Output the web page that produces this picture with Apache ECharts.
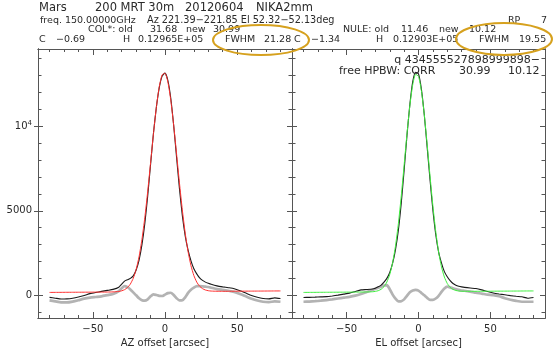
<!DOCTYPE html>
<html><head><meta charset="utf-8">
<script src="https://cdn.jsdelivr.net/npm/echarts@6/dist/echarts.min.js"></script>
<style>html,body{margin:0;padding:0;background:#fff}#c{width:556px;height:354px}</style>
</head><body><div id="c"></div>
<script>
// offsets [arcsec]
const X = [-80,-76,-72,-68,-64,-60,-56,-52,-48,-44,-40,-36,-32,-30,-28,-26,-24,-22,-20,-18,-16,-14,-12,-10,-8,-6,-4,-2,0,2,4,6,8,10,12,14,16,18,20,22,24,26,28,30,32,36,40,44,48,52,56,60,64,68,72,76,80];
// AZ panel
const azData = [-120,-170,-220,-210,-170,-100,-10,100,170,230,290,350,480,660,840,920,1000,1150,1500,2070,2980,4240,5860,7740,9590,11110,12270,12970,13150,12710,11660,10060,8180,6320,4730,3520,2670,2040,1570,1270,1030,880,780,710,650,560,500,450,390,270,130,-10,-120,-190,-210,-150,-190];
const azFit = [171,173,175,178,180,182,184,186,189,191,193,201,229,265,335,458,667,1007,1526,2274,3293,4588,6132,7834,9560,11122,12337,13044,13142,12619,11549,10074,8384,6660,5059,3681,2578,1752,1168,781,538,394,314,272,251,239,237,239,241,244,246,248,250,252,255,257,259];
const azResid = [-300,-360,-420,-420,-370,-290,-200,-140,-100,-60,10,80,250,420,540,480,350,170,0,-180,-290,-320,-240,-60,60,20,-30,-40,40,130,150,20,-170,-300,-290,-120,140,330,450,540,540,530,510,490,450,370,320,270,200,80,-60,-200,-310,-380,-400,-360,-380];
// EL panel
const elData = [-130,-120,-110,-95,-80,-40,10,70,130,230,320,340,370,420,500,600,780,1000,1350,1900,2700,3850,5450,7400,9480,11300,12650,13200,13100,12200,10700,8800,6850,5050,3600,2550,1900,1400,1100,870,700,600,540,500,470,430,400,320,220,140,80,30,-20,-60,-90,-170,-130];
const elFit = [171,173,175,178,180,182,184,186,189,191,193,197,211,232,274,358,513,787,1236,1929,2921,4240,5868,7699,9564,11235,12471,13076,12951,12115,10707,8946,7072,5297,3771,2564,1681,1081,701,475,350,286,255,242,239,236,237,239,241,244,246,248,250,252,255,257,259];
const elResid = [-380,-370,-350,-320,-280,-240,-190,-140,-90,-20,80,200,320,390,450,510,580,600,360,40,-200,-360,-350,-240,-30,180,280,320,280,140,0,-150,-270,-270,-190,-30,200,400,510,470,410,370,320,280,270,220,150,100,40,10,-60,-170,-260,-330,-380,-380,-380];
// ticks
const xMinorTicks = [-80,-70,-60,-50,-40,-30,-20,-10,0,10,20,30,40,50,60,70,80];
const xMajorTicks = [-50,0,50];
const yMinorTicks = [-1000,0,1000,2000,3000,4000,5000,6000,7000,8000,9000,10000,11000,12000,13000,14000];
const yMajorTicks = [0,5000,10000];
const xNames = ['AZ offset [arcsec]','EL offset [arcsec]'];

const FONT = '"DejaVu Sans", sans-serif';
const AX = '#555';
const TXT = '#2a2a2a';
const XMIN=-88, XMAX=88, YMIN=-1343, YMAX=14574;

function pair(xs, ys){ return xs.map((x,i)=>[x, ys[i]]); }

function xAxes(g){
  const base = {type:'value', gridIndex:g, min:XMIN, max:XMAX, splitLine:{show:false},
    axisLine:{show:true, onZero:false, lineStyle:{color:AX, width:1}}, axisLabel:{show:false}};
  const minor = {show:true, inside:true, length:3, customValues:xMinorTicks, lineStyle:{color:AX}};
  const major = {show:true, inside:true, length:6, customValues:xMajorTicks, lineStyle:{color:AX}};
  return [
    Object.assign({}, base, {position:'bottom', axisTick:minor}),
    Object.assign({}, base, {position:'bottom', axisTick:major,
      axisLabel:{show:true, customValues:xMajorTicks, margin:6, color:TXT, fontSize:10, fontFamily:FONT,
        formatter:v=>String(v).replace('-','\u2212')},
      name:xNames[g], nameLocation:'middle', nameGap:16,
      nameTextStyle:{color:TXT, fontSize:10, fontFamily:FONT}}),
    Object.assign({}, base, {position:'top', axisTick:minor}),
    Object.assign({}, base, {position:'top', axisTick:major})
  ];
}
function yAxes(g){
  const base = {type:'value', gridIndex:g, min:YMIN, max:YMAX, splitLine:{show:false},
    axisLine:{show:true, onZero:false, lineStyle:{color:AX, width:1}}, axisLabel:{show:false}};
  const minor = {show:true, inside:true, length:3.5, customValues:yMinorTicks, lineStyle:{color:AX}};
  const major = {show:true, inside:true, length:5, customValues:yMajorTicks, lineStyle:{color:AX}};
  const arr = [
    Object.assign({}, base, {position:'left', axisTick:minor}),
    Object.assign({}, base, {position:'left', axisTick:major,
      axisLabel: g===0 ? {show:true, customValues:yMajorTicks, margin:6, color:TXT, fontSize:10, fontFamily:FONT,
        formatter:v=> v===10000 ? '10{s|4}' : String(v),
        rich:{s:{fontSize:7, fontFamily:FONT, color:TXT, padding:[0,0,7,0]}}} : {show:false}}),
    Object.assign({}, base, {position:'right', axisTick:minor}),
    Object.assign({}, base, {position:'right', axisTick:major})
  ];
  if (g===0) arr.push(Object.assign({}, base, {position:'left', axisTick:{show:true, inside:false, length:4, customValues:yMajorTicks, lineStyle:{color:AX}}}));
  return arr;
}

const xAxisAll = xAxes(0).concat(xAxes(1));
const yAxisAll = yAxes(0).concat(yAxes(1));

function lineSeries(xi, yi, data, color, width, z){
  return {type:'line', xAxisIndex:xi, yAxisIndex:yi, data:data, showSymbol:false, symbol:'none',
    smooth:0.2, lineStyle:{color:color, width:width}, z:z, silent:true};
}
const series = [
  lineSeries(0,0,pair(X,azResid),'#b3b3b3',2.7,2),
  lineSeries(0,0,pair(X,azData),'#1a1a1a',1.1,3),
  lineSeries(0,0,pair(X,azFit),'#ff3030',1,4),
  lineSeries(4,5,pair(X,elResid),'#b3b3b3',2.7,2),
  lineSeries(4,5,pair(X,elData),'#1a1a1a',1.1,3),
  lineSeries(4,5,pair(X,elFit),'#3ff03f',1,4)
];

function T(text, x, y, size, align){
  return {type:'text', x:x, y:y, z:10, silent:true,
    style:{text:text, fill:TXT, font: size+'px '+FONT, align:align||'left', verticalAlign:'middle',
      textAlign:align||'left', textVerticalAlign:'middle'}};
}
const graphic = [
  T('Mars',39,8,11.5), T('200 MRT 30m',95,8,11.5), T('20120604',185,8,11.5), T('NIKA2mm',256,8,11.5),
  T('freq. 150.00000GHz',40,20.5,9.5), T('Az 221.39\u2212221.85 El 52.32\u221252.13deg',147,20.5,9.7),
  T('RP',508,20.5,9.5), T('7',541,20.5,9.5),
  T('COL*: old',88,30,9.5), T('31.68',150,30,9.5), T('new',186,30,9.5), T('30.99',213,30,9.5),
  T('NULE: old',343,30,9.5), T('11.46',401,30,9.5), T('new',439,30,9.5), T('10.12',469,30,9.5),
  T('C',39,39.5,9.5), T('\u22120.69',56,39.5,9.5), T('H',123,39.5,9.5), T('0.12965E+05',138,39.5,9.5),
  T('FWHM',225,39.5,9.5), T('21.28',264,39.5,9.5),
  T('C',294,39.5,9.5), T('\u22121.34',311,39.5,9.5), T('H',376,39.5,9.5), T('0.12903E+05',393,39.5,9.5),
  T('FWHM',479,39.5,9.5), T('19.55',519,39.5,9.5),
  T('q 434555527898999898\u2212',540,60,11,'right'),
  T('free HPBW: CORR',339,71,11), T('30.99',459,71,11), T('10.12',508,71,11),
  {type:'ellipse', z:20, silent:true, shape:{cx:261,cy:40,rx:48,ry:15}, style:{fill:'none', stroke:'#d6a11e', lineWidth:2}},
  {type:'ellipse', z:20, silent:true, shape:{cx:504,cy:39,rx:48,ry:16}, style:{fill:'none', stroke:'#d6a11e', lineWidth:2}}
];

const chart = echarts.init(document.getElementById('c'), null, {renderer:'canvas'});
chart.setOption({
  animation:false,
  backgroundColor:'#fff',
  grid:[{left:38, top:49, width:254, height:269},{left:292, top:49, width:253, height:269}],
  xAxis:xAxisAll, yAxis:yAxisAll, series:series, graphic:graphic
});
</script></body></html>
